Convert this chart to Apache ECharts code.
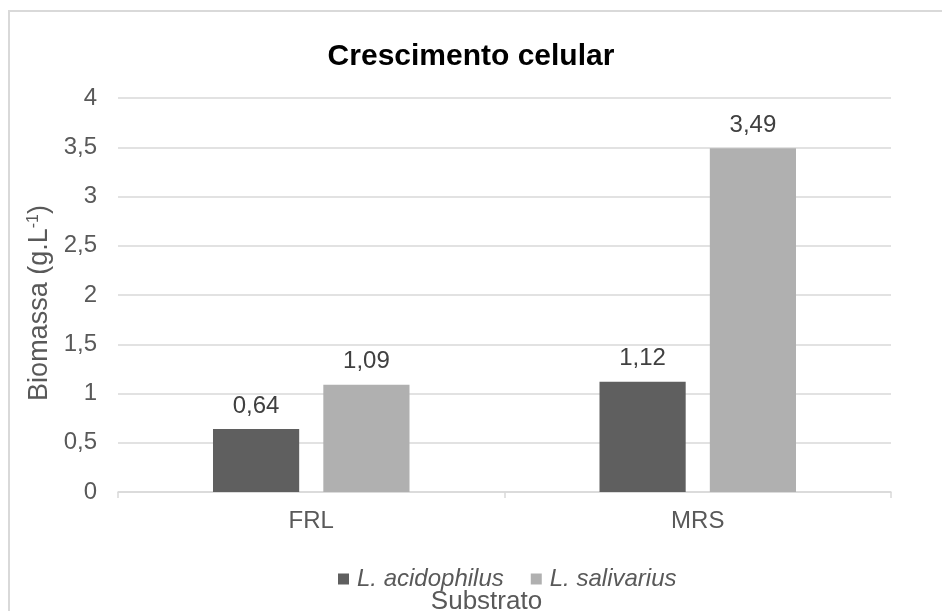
<!DOCTYPE html>
<html><head><meta charset="utf-8">
<script src="https://cdn.jsdelivr.net/npm/echarts@6/dist/echarts.min.js"></script>
<style>html,body{margin:0;padding:0;background:#fff}#c{width:942px;height:611px}</style>
</head><body><div id="c"></div>
<script>
const categories = ['FRL', 'MRS'];
const seriesNames = ['L. acidophilus', 'L. salivarius'];
const acidophilus = [0.64, 1.12];
const salivarius = [1.09, 3.49];
const yTicks = [0, 0.5, 1, 1.5, 2, 2.5, 3, 3.5, 4];

const fmt = v => String(v).replace('.', ',');
const chart = echarts.init(document.getElementById('c'));
const font = 'Liberation Sans, Arial, sans-serif';
const labelCfg = {show: true, position: 'top', distance: 11, fontSize: 24, color: '#404040', fontFamily: font,
  formatter: p => fmt(p.value)};
chart.setOption({
  animation: false,
  graphic: [{type: 'rect', shape: {x: 9, y: 11, width: 1000, height: 700}, style: {fill: 'none', stroke: '#d9d9d9', lineWidth: 2}, silent: true}],
  title: {text: 'Crescimento celular', left: 'center', top: 37, textStyle: {fontFamily: font, fontSize: 30, fontWeight: 'bold', color: '#000'}},
  legend: {top: 562, left: 333, itemWidth: 11, itemHeight: 11, itemGap: 27, icon: 'rect',
    textStyle: {fontFamily: font, fontSize: 24, fontStyle: 'italic', color: '#595959', padding: [0,0,0,3]},
    data: seriesNames},
  grid: {left: 118, right: 51, top: 98, bottom: 119, outerBoundsMode: 'none', containLabel: false},
  xAxis: {type: 'category', data: categories,
    name: 'Substrato', nameLocation: 'middle', nameGap: 97,
    nameTextStyle: {fontFamily: font, fontSize: 26, color: '#595959', padding: [0, 36, 0, 0]},
    axisLine: {lineStyle: {color: '#d9d9d9', width: 1.5}},
    axisTick: {show: true, length: 6, lineStyle: {color: '#d9d9d9', width: 1.5}},
    axisLabel: {fontFamily: font, fontSize: 24, color: '#595959', margin: 17}},
  yAxis: {type: 'value', min: 0, max: 4, interval: 0.5,
    name: '{a|Biomassa (g.L}{s|-1}{a|)}', nameLocation: 'middle', nameGap: 63,
    nameTextStyle: {padding: [0, 16, 0, 0], rich: {
      a: {fontFamily: font, fontSize: 27, color: '#595959'},
      s: {fontFamily: font, fontSize: 16, color: '#595959', verticalAlign: 'top', padding: [0,0,12,0]}}},
    axisLine: {show: false}, axisTick: {show: false},
    splitLine: {lineStyle: {color: '#d9d9d9', width: 1.5}},
    axisLabel: {fontFamily: font, fontSize: 24, color: '#595959', margin: 21,
      formatter: v => yTicks.includes(v) ? fmt(v) : ''}},
  series: [
    {name: seriesNames[0], type: 'bar', data: acidophilus, barWidth: '22.3%', barGap: '28%',
      itemStyle: {color: '#5f5f5f'}, label: labelCfg},
    {name: seriesNames[1], type: 'bar', data: salivarius, barWidth: '22.3%',
      itemStyle: {color: '#b0b0b0'}, label: labelCfg}
  ]
});
</script></body></html>
